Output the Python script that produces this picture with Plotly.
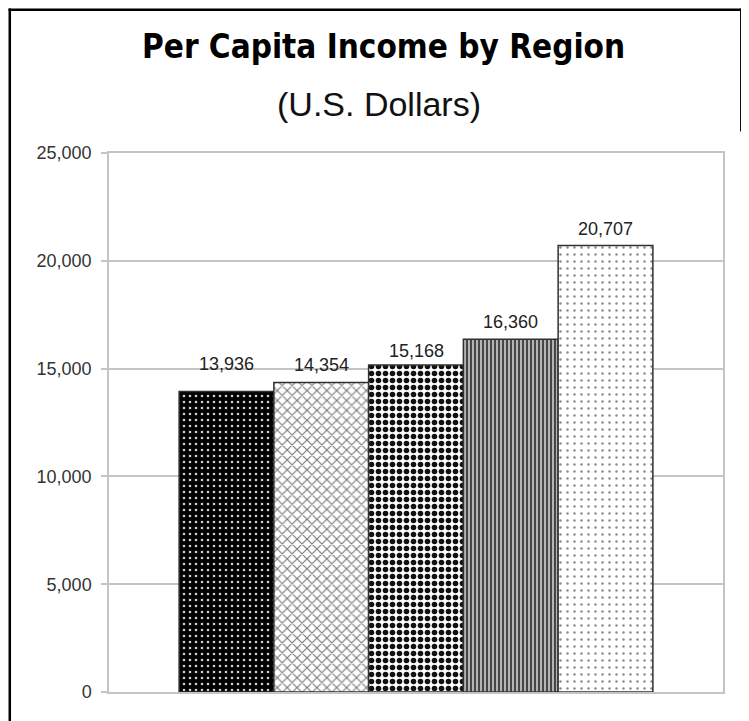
import plotly.graph_objects as go

# ---- data ----
categories = ["Region 1", "Region 2", "Region 3", "Region 4", "Region 5"]
income = [13936, 14354, 15168, 16360, 20707]
y_ticks = [0, 5000, 10000, 15000, 20000, 25000]
title_text = "Per Capita Income by Region"
subtitle_text = "(U.S. Dollars)"

# ---- styles ----
pattern_shapes = [".", "x", ".", "|", "."]
pattern_fg = ["#d0d0d0", "#7a7a7a", "#111111", "#3a3a3a", "#8a8a8a"]
pattern_bg = ["#000000", "#ffffff", "#ffffff", "#b4b4b4", "#ffffff"]
pattern_size = [6, 7, 7, 4, 7]
pattern_solidity = [0.15, 0.3, 0.5, 0.45, 0.1]
label_shift = [28, 18, 14, 17, 17]

W, H = 741, 713  # figure size (page body adds an 8px margin)

fig = go.Figure()
for i, (c, v) in enumerate(zip(categories, income)):
    fig.add_trace(go.Bar(
        x=[c], y=[v], width=1, name=c,
        marker=dict(
            color=pattern_bg[i],
            line=dict(color="#303030", width=1.5),
            pattern=dict(
                shape=pattern_shapes[i],
                fgcolor=pattern_fg[i],
                bgcolor=pattern_bg[i],
                size=pattern_size[i],
                solidity=pattern_solidity[i],
                fillmode="replace",
            ),
        ),
        showlegend=False,
    ))

for c, v, s in zip(categories, income, label_shift):
    fig.add_annotation(
        x=c, y=v, text=f"{v:,}", showarrow=False, yanchor="middle",
        yshift=s, font=dict(family="Liberation Sans, Arial", size=18, color="#222222"),
    )

fig.add_annotation(
    xref="paper", yref="paper", x=0.447, y=1.198, text=title_text,
    showarrow=False, xanchor="center", yanchor="middle",
    font=dict(family="DejaVu Sans Condensed", size=33, color="#000000", weight="bold"),
)
fig.add_annotation(
    xref="paper", yref="paper", x=0.440, y=1.090, text=subtitle_text,
    showarrow=False, xanchor="center", yanchor="middle",
    font=dict(family="Liberation Sans, Arial", size=34, color="#111111"),
)

# outer frame (left, top, right-top)
frame = dict(color="#000000", width=2.5)
fig.add_shape(type="line", xref="paper", yref="paper", x0=-0.1616, x1=-0.1616, y0=-0.2, y1=1.2680, line=frame, layer="above")
fig.add_shape(type="line", xref="paper", yref="paper", x0=-0.1636, x1=1.0318, y0=1.2657, y1=1.2657, line=frame, layer="above")
fig.add_shape(type="line", xref="paper", yref="paper", x0=1.0298, x1=1.0298, y0=1.2680, y1=1.04, line=frame, layer="above")

fig.update_layout(
    width=W, height=H,
    margin=dict(l=100.5, r=W - 714.7, t=144.7, b=H - 684.5),
    paper_bgcolor="white", plot_bgcolor="white",
    barmode="overlay",
    xaxis=dict(
        range=[-1.24, 5.24], showticklabels=False, ticks="",
        showgrid=False, showline=True, mirror=True, linecolor="#c4c4c4", linewidth=1.5,
        zeroline=False,
    ),
    yaxis=dict(
        range=[0, 25000], tickvals=y_ticks, tickformat=",",
        tickfont=dict(family="Liberation Sans, Arial", size=18, color="#333333"),
        showgrid=True, gridcolor="#c4c4c4", gridwidth=1.5,
        showline=True, mirror=True, linecolor="#c4c4c4", linewidth=1.5,
        ticks="outside", ticklen=6, tickcolor="#c4c4c4", tickwidth=1.5,
        ticklabelstandoff=6, zeroline=False,
    ),
)

fig.write_html("out.html")
